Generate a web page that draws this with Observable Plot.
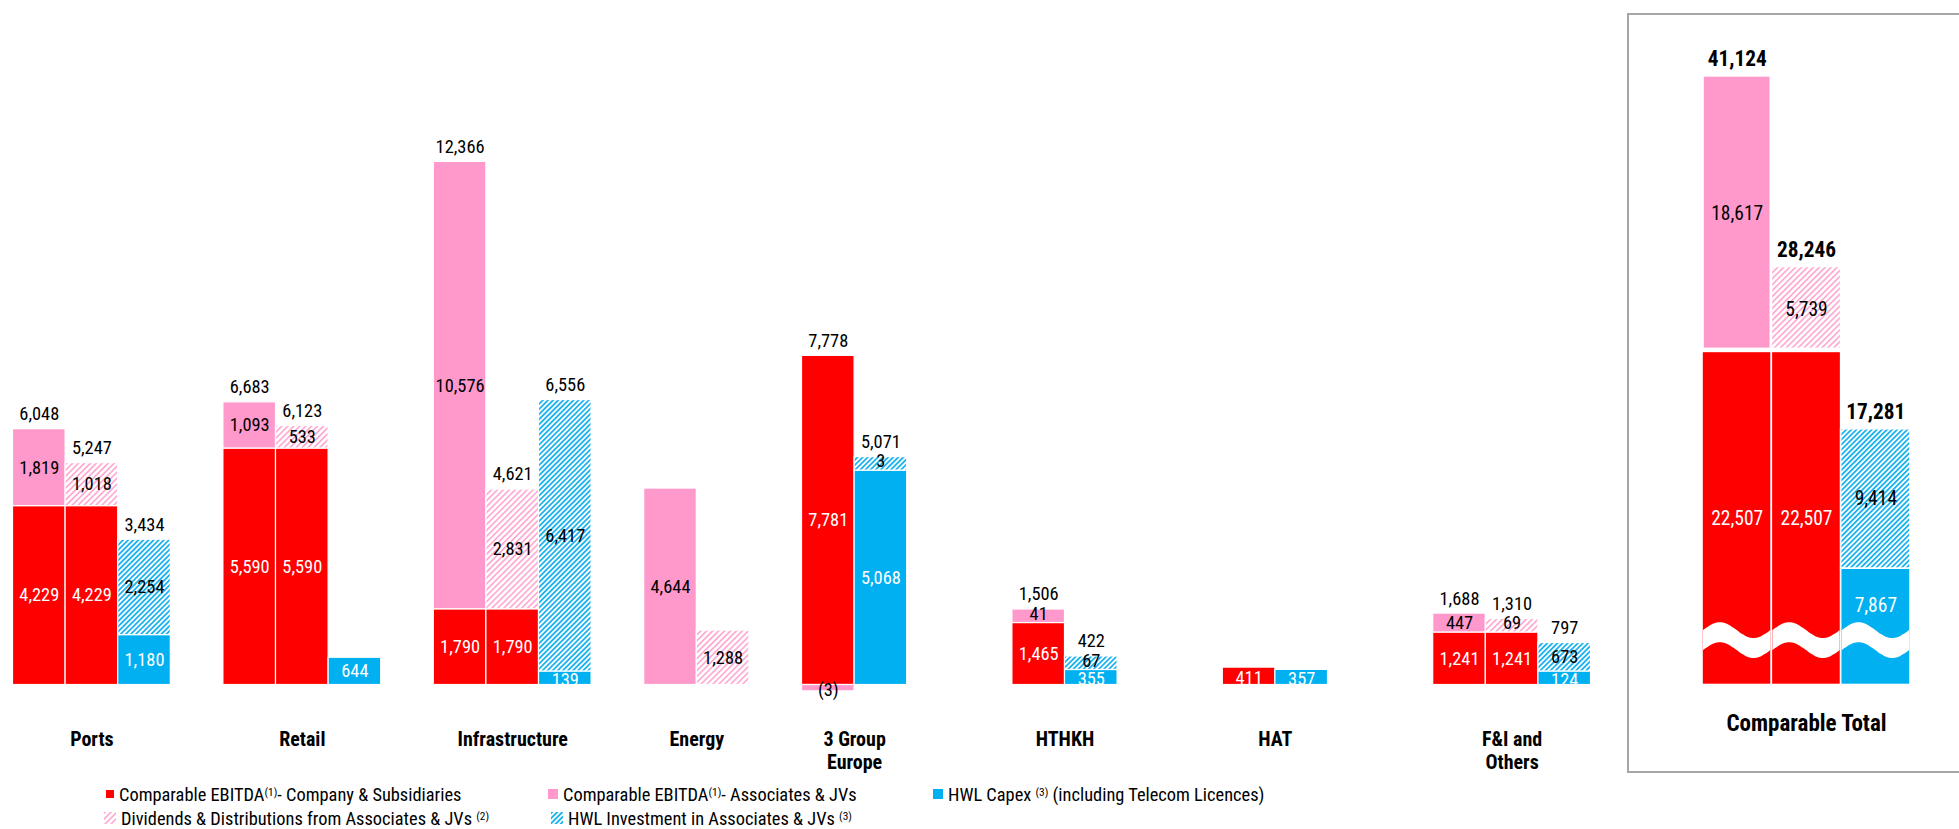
<!DOCTYPE html>
<html>
<head>
<meta charset="utf-8">
<script src="https://cdn.jsdelivr.net/npm/d3@7"></script>
<script src="https://cdn.jsdelivr.net/npm/@observablehq/plot@0.6"></script>
<style>
  html, body { margin:0; padding:0; background:#fff; }
  body { width:1959px; height:829px; overflow:hidden; position:relative; }
  #main { position:absolute; left:0; top:0; }
  #totalBox { position:absolute; left:1627px; top:13px; width:420px; height:760px;
              border:2px solid #a6a6a6; box-sizing:border-box; }
  #total { position:absolute; left:1628px; top:0; }
  .leg { position:absolute; display:flex; align-items:center; height:24px;
         color:#000; white-space:nowrap; }
  .leg svg { margin-right:5px; flex:none; }
  .leg .sup { font-size:0.62em; position:relative; top:-0.42em; }
</style>
</head>
<body>
<svg width="0" height="0" style="position:absolute;left:0;top:0">
  <defs>
    <pattern id="hatchPink" patternUnits="userSpaceOnUse" width="4.2" height="4.2" patternTransform="rotate(45)">
      <rect width="4.2" height="4.2" fill="#ffffff"></rect>
      <rect width="1.7" height="4.2" fill="#ffaad3"></rect>
    </pattern>
    <pattern id="hatchBlue" patternUnits="userSpaceOnUse" width="3.6" height="3.6" patternTransform="rotate(45)">
      <rect width="3.6" height="3.6" fill="#ffffff"></rect>
      <rect width="1.8" height="3.6" fill="#1cb3ee"></rect>
    </pattern>
  </defs>
</svg>
<div id="main"></div>
<div id="totalBox"></div>
<div id="total"></div>
<div id="legend"></div>
<script>
// ---------------- data ----------------
const groups = ["Ports", "Retail", "Infrastructure", "Energy", "3 Group\nEurope", "HTHKH", "HAT", "F&I and\nOthers", "Comparable Total"];
// Bar 1: Comparable EBITDA (company & subsidiaries + associates & JVs)
const ebitdaCompany    = [4229, 5590, 1790, null, 7781, 1465, 411, 1241, 22507];
const ebitdaAssociates = [1819, 1093, 10576, 4644, -3, 41, null, 447, 18617];
// Bar 2: company EBITDA + dividends & distributions from associates & JVs
const dividends        = [1018, 533, 2831, 1288, null, null, null, 69, 5739];
// Bar 3: HWL capex + HWL investment in associates & JVs
const capex            = [1180, 644, 139, null, 5068, 355, 357, 124, 7867];
const investment       = [2254, null, 6417, null, 3, 67, null, 673, 9414];

const seriesKeys = ["company", "associates", "dividends", "capex", "investment"];
const legendText = [
  ["Comparable EBITDA", "(1)", "- Company & Subsidiaries"],
  ["Comparable EBITDA", "(1)", "- Associates & JVs"],
  ["Dividends & Distributions from Associates & JVs ", "(2)", ""],
  ["HWL Capex ", "(3)", " (including Telecom Licences)"],
  ["HWL Investment in Associates & JVs ", "(3)", ""]
];

// ---------------- fonts ----------------
const ctx = document.createElement("canvas").getContext("2d");
function hasFont(name) {
  const s = "Comparable EBITDA 0123456789 Wmlij";
  for (const base of ["monospace", "serif"]) {
    ctx.font = `40px ${base}`; const a = ctx.measureText(s).width;
    ctx.font = `40px "${name}", ${base}`; const b = ctx.measureText(s).width;
    if (Math.abs(a - b) > 0.5) return true;
  }
  return false;
}
const fontName = ["Roboto Condensed", "Liberation Sans Narrow", "Arial Narrow", "DejaVu Sans Condensed", "Liberation Sans"].find(hasFont) || "sans-serif";
const FONT = `"${fontName}", sans-serif`;
function fit(text, weight, target, maxSize) {
  ctx.font = `${weight} 100px ${FONT}`;
  const w = ctx.measureText(text).width;
  return Math.min(maxSize, 100 * target / w);
}
const legendSize = fit("Comparable EBITDA- Company & Subsidiaries", "normal", 330, 19);
const numSize    = fit("6,048", "normal", 40, 19);
const totNumSize = fit("22,507", "normal", 52, 21);
const totBold    = fit("41,124", "bold", 59, 23);
const catSize    = fit("Infrastructure", "bold", 114, 20);
const totCatSize = fit("Comparable Total", "bold", 162, 23);
document.body.style.fontFamily = FONT;

// ---------------- styles ----------------
const seriesFill = {company: "#ff0000", associates: "#ff99cc", dividends: "url(#hatchPink)", capex: "#00b0f0", investment: "url(#hatchBlue)"};
const labelColor = {company: "#ffffff", associates: "#000000", dividends: "#000000", capex: "#ffffff", investment: "#000000"};

const fmtN = d3.format(",");
const fmt = v => v < 0 ? `(${fmtN(-v)})` : fmtN(v);

// Build stacked segments for a group (small segments get a minimum visual size, as in the original)
function buildGroup(gi, minPos, minNeg) {
  const g = groups[gi];
  const defs = [
    {bar: "b1", parts: [["company", ebitdaCompany[gi]], ["associates", ebitdaAssociates[gi]]]},
    {bar: "b2", parts: dividends[gi] == null ? [] : [["company", ebitdaCompany[gi]], ["dividends", dividends[gi]]]},
    {bar: "b3", parts: [["capex", capex[gi]], ["investment", investment[gi]]]}
  ];
  const segs = [], bars = [];
  for (const {bar, parts} of defs) {
    const present = parts.filter(([, v]) => v != null);
    if (!present.length) continue;
    const key = g + "|" + bar;
    let pos = 0, neg = 0, total = 0;
    for (const [series, v] of present) {
      total += v;
      if (v >= 0) {
        const h = Math.max(v, minPos);
        segs.push({key, series, value: v, y1: pos, y2: pos + h, small: v < minPos});
        pos += h;
      } else {
        const h = Math.max(-v, minNeg);
        segs.push({key, series, value: v, y1: neg, y2: neg - h, small: true});
        neg -= h;
      }
    }
    bars.push({key, group: g, total, top: pos, count: present.length});
  }
  return {segs, bars};
}

// label position: middle of segment; small stacked segments nudged up, short base segments nudged down
function labelY(d, nudge) {
  const mid = (d.y1 + d.y2) / 2;
  if (d.small && d.y1 > 0) return mid + nudge;
  if (d.value < 0) return mid - nudge * 0.8;
  if (nudge && d.y1 === 0 && d.y2 < 480) return mid - 40;
  return mid;
}

function labelMarks(segs, fontSize, nudge, extraDy = {}) {
  const out = [];
  for (const s of seriesKeys) {
    const dd = segs.filter(d => d.series === s);
    if (!dd.length) continue;
    out.push(Plot.text(dd, {
      x: "key", y: d => labelY(d, nudge), text: d => fmt(d.value),
      fill: d => d.value < 0 ? "#000000" : labelColor[s], fontSize, fontFamily: FONT, dy: (extraDy[s] || 0)
    }));
  }
  return out;
}

// ---------------- main chart ----------------
const mainIdx = d3.range(0, 8);
const gapAfter = [1, 1, 1, 1, 2, 2, 2, 0];
const mainSegs = [], mainBars = [], slotDomain = [], groupLabels = [];
mainIdx.forEach(gi => {
  const {segs, bars} = buildGroup(gi, 320, 150);
  mainSegs.push(...segs);
  mainBars.push(...bars);
  bars.forEach(b => slotDomain.push(b.key));
  for (let k = 0; k < gapAfter[gi]; k++) slotDomain.push(`gap-${gi}-${k}`);
  const n = bars.length;
  groupLabels.push({label: groups[gi], key: bars[Math.floor((n - 1) / 2)].key, even: n % 2 === 0});
});

const xRange = [12.5, 1590.5];
const bw = (xRange[1] - xRange[0]) / slotDomain.length;

const mainPlot = Plot.plot({
  width: 1620, height: 770, margin: 0,
  style: {fontFamily: FONT, background: "transparent", overflow: "visible"},
  color: {type: "identity"},
  x: {type: "band", domain: slotDomain, range: xRange, padding: 0, round: false, axis: null},
  y: {domain: [0, 15709], range: [684.5, 20], axis: null},
  marks: [
    ...seriesKeys.map(s => Plot.barY(mainSegs.filter(d => d.series === s), {
      x: "key", y1: "y1", y2: "y2", fill: seriesFill[s], stroke: "#ffffff", strokeWidth: 1.2
    })),
    ...labelMarks(mainSegs, numSize, 60),
    Plot.text(mainBars.filter(b => b.count > 1), {
      x: "key", y: "top", text: d => fmt(d.total), dy: -15, fontSize: numSize, fontFamily: FONT, fill: "#000"
    }),
    Plot.text(groupLabels.filter(d => !d.even), {
      x: "key", text: "label", frameAnchor: "bottom", lineAnchor: "top", dy: -41,
      fontSize: catSize, fontWeight: "bold", fontFamily: FONT, lineHeight: 1.15, fill: "#000"
    }),
    Plot.text(groupLabels.filter(d => d.even), {
      x: "key", text: "label", frameAnchor: "bottom", lineAnchor: "top", dy: -41, dx: bw / 2,
      fontSize: catSize, fontWeight: "bold", fontFamily: FONT, lineHeight: 1.15, fill: "#000"
    })
  ]
});
document.getElementById("main").appendChild(mainPlot);

// ---------------- comparable total panel ----------------
const totalIdx = 8;
const tot = buildGroup(totalIdx, 0, 0);
const totalDomain = tot.bars.map(b => b.key);
const totalPlot = Plot.plot({
  width: 331, height: 770, margin: 0,
  style: {fontFamily: FONT, background: "transparent", overflow: "visible"},
  color: {type: "identity"},
  x: {type: "band", domain: totalDomain, range: [74, 282], padding: 0, round: false, axis: null},
  y: {domain: [0, 44899], range: [684.5, 20], axis: null},
  marks: [
    ...seriesKeys.map(s => Plot.barY(tot.segs.filter(d => d.series === s), {
      x: "key", y1: "y1", y2: "y2", fill: seriesFill[s], stroke: "#ffffff", strokeWidth: 1.6,
      insetBottom: (s === "associates" || s === "dividends") ? 3 : 0,
      insetLeft: s === "associates" ? 1 : 0, insetRight: s === "associates" ? 1 : 0
    })),
    ...labelMarks(tot.segs, totNumSize, 0, {capex: -21}),
    Plot.text(tot.bars, {
      x: "key", y: "top", text: d => fmt(d.total), dy: -17, fontSize: totBold, fontWeight: "bold", fontFamily: FONT, fill: "#000"
    }),
    Plot.text([groups[totalIdx]], {
      x: () => tot.bars[1].key, text: d => d, frameAnchor: "bottom", lineAnchor: "top", dy: -56,
      fontSize: totCatSize, fontWeight: "bold", fontFamily: FONT, fill: "#000"
    })
  ]
});
document.getElementById("total").appendChild(totalPlot);

// axis-break wave across the total bars
(function () {
  const sx = totalPlot.scale("x"), sy = totalPlot.scale("y");
  const xAt = k => sx.apply ? sx.apply(k) : sx.range[0] + sx.domain.indexOf(k) * (sx.range[1] - sx.range[0]) / sx.domain.length;
  const yAt = v => sy.apply ? sy.apply(v) : sy.range[0] + (v - sy.domain[0]) / (sy.domain[1] - sy.domain[0]) * (sy.range[1] - sy.range[0]);
  const w = sx.bandwidth != null ? sx.bandwidth : (sx.range[1] - sx.range[0]) / sx.domain.length;
  const yc = yAt(3000);
  const area = d3.area().x(d => d.x).y0(d => d.y - 10).y1(d => d.y + 10).curve(d3.curveBasis);
  const svg = d3.select(totalPlot);
  totalDomain.forEach(k => {
    const x0 = xAt(k) + 1, x1 = xAt(k) + w - 1;
    const pts = d3.range(0, 25).map(i => {
      const t = i / 24;
      return {x: x0 + t * (x1 - x0), y: yc - 8 * Math.sin(2 * Math.PI * t)};
    });
    svg.append("path").attr("d", area(pts)).attr("fill", "#ffffff");
  });
})();

// ---------------- legend ----------------
const legendLayout = [
  {series: "company",    left: 106, top: 782, sw: 8},
  {series: "associates", left: 548, top: 782, sw: 10},
  {series: "capex",      left: 933, top: 782, sw: 10},
  {series: "dividends",  left: 104, top: 806, sw: 12},
  {series: "investment", left: 551, top: 806, sw: 12}
];
const legend = document.getElementById("legend");
legendLayout.forEach(item => {
  const i = seriesKeys.indexOf(item.series);
  const [a, sup, b] = legendText[i];
  const div = document.createElement("div");
  div.className = "leg";
  div.style.left = item.left + "px";
  div.style.top = item.top + "px";
  div.style.fontSize = legendSize + "px";
  div.innerHTML = `<svg width="${item.sw}" height="${item.sw}"><rect width="${item.sw}" height="${item.sw}" fill="${seriesFill[item.series]}"></rect></svg>`;
  const span = document.createElement("span");
  span.appendChild(document.createTextNode(a));
  const s = document.createElement("span"); s.className = "sup"; s.textContent = sup;
  span.appendChild(s);
  span.appendChild(document.createTextNode(b));
  div.appendChild(span);
  legend.appendChild(div);
});
</script>
</body>
</html>
